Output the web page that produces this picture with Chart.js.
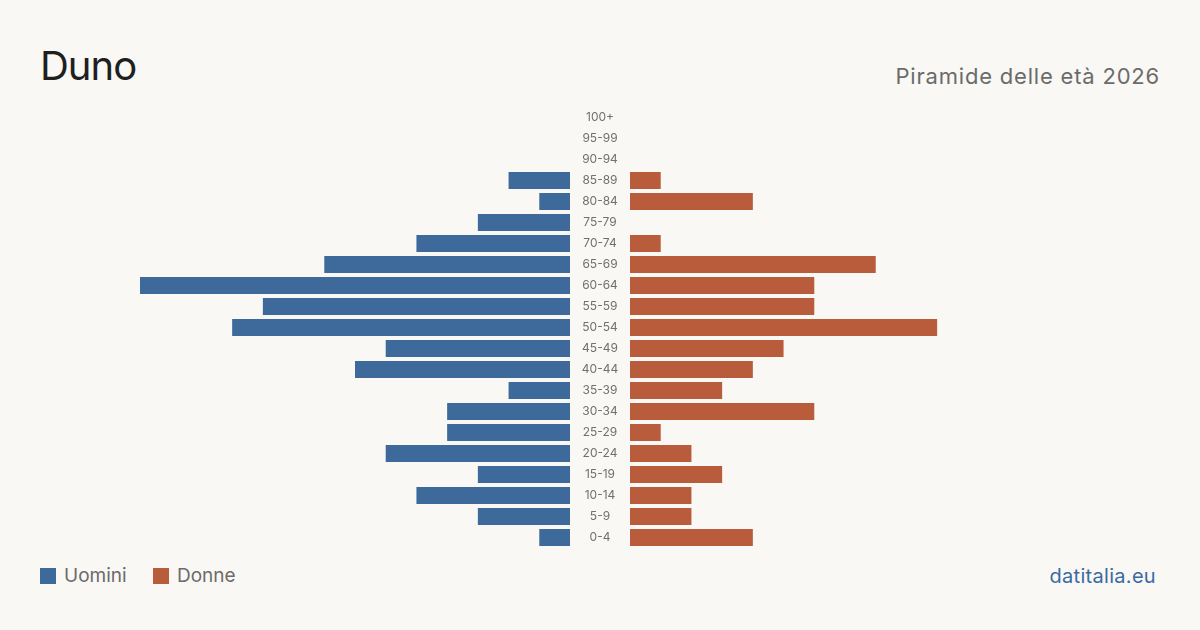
<!DOCTYPE html>
<html><head><meta charset="utf-8">
<script src="https://cdn.jsdelivr.net/npm/chart.js@4.4.1/dist/chart.umd.min.js"></script>
<style>
html,body{margin:0;padding:0;background:#f9f8f4;}
body{width:1200px;height:630px;position:relative;overflow:hidden;font-family:Inter,"Noto Sans",sans-serif;}
#title{position:absolute;left:40px;top:42px;font-size:40px;line-height:48px;color:#1f1f1f;letter-spacing:-1px;}
#sub{position:absolute;right:40px;top:62px;font-size:22px;line-height:28px;color:#6b6b6b;letter-spacing:0.8px;}
#left{position:absolute;left:140px;top:107px;width:430px;height:441px;}
#right{position:absolute;left:570px;top:107px;width:490px;height:441px;}
.leg{position:absolute;top:564px;font-size:19px;line-height:24px;color:#6b6b6b;}
.sw{position:absolute;top:568px;width:16px;height:16px;}
#src{position:absolute;right:44px;top:564px;font-size:20px;line-height:24px;color:#3a6aa0;letter-spacing:0.3px;}
</style></head>
<body>
<div id="title">Duno</div>
<div id="sub">Piramide delle età 2026</div>
<div id="left"><canvas id="cl"></canvas></div>
<div id="right"><canvas id="cr"></canvas></div>
<div class="sw" style="left:40px;background:#3d6a9b"></div><div class="leg" style="left:64px">Uomini</div>
<div class="sw" style="left:153px;background:#b95c3c"></div><div class="leg" style="left:177px">Donne</div>
<div id="src">datitalia.eu</div>
<script>
const ageGroups = ["100+","95-99","90-94","85-89","80-84","75-79","70-74","65-69","60-64","55-59","50-54","45-49","40-44","35-39","30-34","25-29","20-24","15-19","10-14","5-9","0-4"];
const men   = [0,0,0,2,1,3,5,8,14,10,11,6,7,2,4,4,6,3,5,3,1];
const women = [0,0,0,1,4,0,1,8,6,6,10,5,4,3,6,1,2,3,2,2,4];
const menColor = "#3d6a9b";
const womenColor = "#b95c3c";

const maxVal = Math.max(...men, ...women);

function opts(reverse, padLeft){
  return {
    indexAxis:'y', responsive:true, maintainAspectRatio:false, animation:false,
    layout:{padding:{left:padLeft,right:0,top:0,bottom:0}},
    plugins:{legend:{display:false},tooltip:{enabled:false}},
    scales:{
      x:{display:false,min:0,max:maxVal,reverse:reverse},
      y:{display:false}
    }
  };
}
const ds = (data,color)=>({data:data,backgroundColor:color,barPercentage:0.81,categoryPercentage:1,borderWidth:0});

new Chart(document.getElementById('cl'),{type:'bar',data:{labels:ageGroups,datasets:[ds(men,menColor)]},options:opts(true,0)});

const labelPlugin = {
  id:'centerLabels',
  afterDraw(chart){
    const ctx = chart.ctx, y = chart.scales.y;
    ctx.save();
    ctx.font = '12px Inter, "Noto Sans", sans-serif';
    ctx.fillStyle = '#707070';
    ctx.textAlign = 'center';
    ctx.textBaseline = 'middle';
    chart.data.labels.forEach((l,i)=>{
      ctx.fillText(l, chart.chartArea.left - 30, y.getPixelForValue(i));
    });
    ctx.restore();
  }
};
new Chart(document.getElementById('cr'),{type:'bar',data:{labels:ageGroups,datasets:[ds(women,womenColor)]},options:opts(false,60),plugins:[labelPlugin]});
</script>
</body></html>
